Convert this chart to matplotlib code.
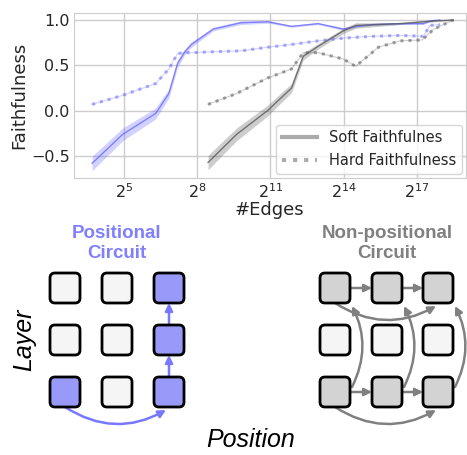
import numpy as np
import matplotlib.pyplot as plt
from matplotlib.lines import Line2D
from matplotlib.patches import FancyBboxPatch, FancyArrowPatch

# ---- data ----
pos_edges = [13, 31, 79, 115, 147, 181, 218, 405, 891, 1911, 3743, 7962, 16270,
             23810, 37640, 80684, 158200, 190800, 252400]
pos_soft = [-0.58, -0.26, -0.03, 0.19, 0.52, 0.65, 0.73, 0.90, 0.97, 0.98, 0.93,
            0.96, 0.90, 0.93, 0.95, 0.96, 0.96, 0.99, 1.00]
pos_soft_err = [0.08, 0.07, 0.06, 0.05, 0.04, 0.03, 0.03, 0.02, 0.02, 0.015, 0.01,
                0.01, 0.015, 0.01, 0.01, 0.01, 0.01, 0.01, 0.005]
pos_hard = [0.07, 0.17, 0.30, 0.46, 0.63, 0.64, 0.64, 0.65, 0.66, 0.70, 0.73,
            0.77, 0.80, 0.81, 0.82, 0.83, 0.82, 0.94, 0.95]

np_edges = [350, 787, 1885, 3743, 5220, 7962, 16270, 23170, 44150, 81250, 152600,
            212900, 370700]
np_soft = [-0.57, -0.26, 0.00, 0.25, 0.60, 0.71, 0.88, 0.94, 0.95, 0.96, 0.98,
           0.99, 1.00]
np_soft_err = [0.08, 0.07, 0.06, 0.05, 0.04, 0.03, 0.03, 0.03, 0.02, 0.01, 0.01,
               0.01, 0.005]
np_hard = [0.07, 0.19, 0.36, 0.46, 0.64, 0.64, 0.57, 0.49, 0.70, 0.77, 0.78,
           0.90, 1.00]

xticks = [2**5, 2**8, 2**11, 2**14, 2**17]
xticklabels = ['$2^{5}$', '$2^{8}$', '$2^{11}$', '$2^{14}$', '$2^{17}$']
yticks = [-0.5, 0.0, 0.5, 1.0]

blue = '#6a6aff'
gray = '#5a5a5a'

# ---- diagram layout (pixel units of the lower panel) ----
left_cols = [65, 117, 169]
right_cols = [335, 387, 438]
rows = [288, 340, 392]
box = 30
pos_filled = [(0, 2), (2, 0), (2, 1), (2, 2)]
np_filled = [(c, r) for c in range(3) for r in (0, 2)]

plt.rcParams['font.family'] = 'DejaVu Sans'
fig = plt.figure(figsize=(4.67, 4.55), dpi=100)

ax = fig.add_axes([0.158, 0.609, 0.840, 0.363])
ax.set_xscale('log', base=2)

lo = np.array(pos_soft) - np.array(pos_soft_err)
hi = np.array(pos_soft) + np.array(pos_soft_err)
ax.fill_between(pos_edges, lo, hi, color=blue, alpha=0.3, lw=0)
ax.plot(pos_edges, pos_soft, color=blue, lw=1, alpha=0.8)
ax.plot(pos_edges, pos_hard, color=blue, lw=0.8, alpha=0.3)
ax.plot(pos_edges, pos_hard, color=blue, lw=2.2, ls=':', alpha=0.55)

lo = np.array(np_soft) - np.array(np_soft_err)
hi = np.array(np_soft) + np.array(np_soft_err)
ax.fill_between(np_edges, lo, hi, color=gray, alpha=0.3, lw=0)
ax.plot(np_edges, np_soft, color=gray, lw=1, alpha=0.8)
ax.plot(np_edges, np_hard, color=gray, lw=0.8, alpha=0.3)
ax.plot(np_edges, np_hard, color=gray, lw=2.2, ls=':', alpha=0.55)

ax.set_xlim(2**2.95, 2**19.02)
ax.set_ylim(-0.74, 1.08)
ax.set_xticks(xticks)
ax.set_xticklabels(xticklabels)
ax.minorticks_off()
ax.set_yticks(yticks)
ax.tick_params(length=0, pad=3, labelsize=11.5, colors='#262626')
ax.grid(True, color='#cccccc', lw=1)
for s in ax.spines.values():
    s.set_color('#cccccc')
ax.set_axisbelow(True)
ax.set_xlabel('#Edges', fontsize=13, color='#262626', labelpad=0)
ax.set_ylabel('Faithfulness', fontsize=13, color='#262626', labelpad=2)

handles = [Line2D([], [], color='#888888', lw=3, alpha=0.7),
           Line2D([], [], color='#888888', lw=3, ls=':', alpha=0.7)]
ax.legend(handles, ['Soft Faithfulnes', 'Hard Faithfulness'], loc='lower right',
          fontsize=10.5, frameon=True, edgecolor='#cccccc', borderaxespad=0.3,
          handlelength=2.4, labelcolor='#262626')

# ---- lower panel: circuit sketches ----
ax2 = fig.add_axes([0, 0, 1, 235 / 455])
ax2.set_xlim(0, 467)
ax2.set_ylim(455, 220)
ax2.axis('off')


def draw_grid(cols, filled, fill):
    for ci, cx in enumerate(cols):
        for ri, cy in enumerate(rows):
            fc = fill if (ci, ri) in filled else '#f5f5f5'
            ax2.add_patch(FancyBboxPatch((cx - box / 2, cy - box / 2), box, box,
                                         boxstyle='round,pad=0,rounding_size=5',
                                         fc=fc, ec='black', lw=2, zorder=3))


def arrow(p, q, color, rad=0.0):
    ax2.add_patch(FancyArrowPatch(p, q, arrowstyle='-|>', mutation_scale=11,
                                  color=color, lw=1.8, shrinkA=0, shrinkB=0,
                                  connectionstyle=f'arc3,rad={rad}', zorder=2))


draw_grid(left_cols, pos_filled, '#9999fa')
draw_grid(right_cols, np_filled, '#d3d3d3')

h = box / 2
ab = '#7777ff'
c2 = left_cols[2]
arrow((c2, rows[2] - h), (c2, rows[1] + h), ab)
arrow((c2, rows[1] - h), (c2, rows[0] + h), ab)
arrow((left_cols[0], rows[2] + h), (c2 - 3, rows[2] + h + 3), ab, rad=0.3)

ag = '#808080'
for r in (rows[0], rows[2]):
    arrow((right_cols[0] + h, r), (right_cols[1] - h, r), ag)
    arrow((right_cols[1] + h, r), (right_cols[2] - h, r), ag)
    arrow((right_cols[0], r + h), (right_cols[2] - 2, r + h + 3), ag, rad=0.3)
for cx in right_cols:
    arrow((cx + h + 2, rows[2] - 5), (cx + h + 2, rows[0] + h + 3), ag, rad=0.25)

tfont = dict(family='Liberation Sans', fontweight='bold', fontsize=13.5,
             ha='center', va='center')
ax2.text(117, 233, 'Positional', color='#8080ff', **tfont)
ax2.text(117, 254, 'Circuit', color='#8080ff', **tfont)
ax2.text(387, 233, 'Non-positional', color='#808080', **tfont)
ax2.text(387, 254, 'Circuit', color='#808080', **tfont)

ax2.text(24, 340, 'Layer', family='Liberation Sans', style='italic', fontsize=18,
         rotation=90, ha='center', va='center')
ax2.text(251, 440, 'Position', family='Liberation Sans', style='italic',
         fontsize=18, ha='center', va='center')

fig.savefig('out.png', dpi=100)
